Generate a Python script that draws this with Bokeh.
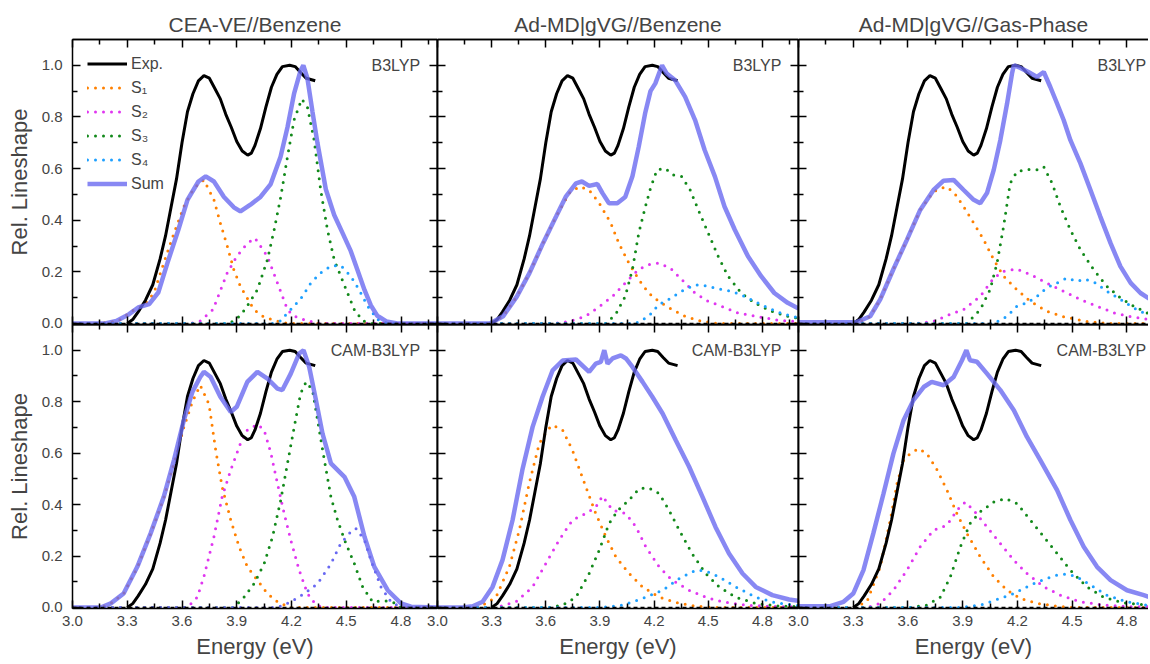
from bokeh.plotting import figure
from bokeh.models import (LinearAxis, FixedTicker, Range1d, Span, Label, Legend,
                          LegendItem, NumeralTickFormatter)
from bokeh.layouts import column, row
from bokeh.embed import file_html
from bokeh.resources import INLINE

FONT = "Liberation Sans"

# ---------------- data (energy in eV, relative lineshape) ----------------
exp_e = [3.30, 3.33, 3.36, 3.40, 3.44, 3.48, 3.51, 3.54, 3.57, 3.60, 3.63, 3.66, 3.69, 3.72,
         3.75, 3.78, 3.81, 3.84, 3.87, 3.90, 3.93, 3.96, 3.98, 4.00, 4.03, 4.06, 4.09, 4.12,
         4.15, 4.19, 4.22, 4.25, 4.28, 4.33]
exp_y = [0.0, 0.015, 0.045, 0.09, 0.15, 0.25, 0.34, 0.45, 0.56, 0.70, 0.82, 0.89, 0.94, 0.96,
         0.95, 0.91, 0.87, 0.81, 0.76, 0.705, 0.668, 0.652, 0.66, 0.69, 0.755, 0.839, 0.915,
         0.965, 0.995, 1.0, 0.995, 0.972, 0.95, 0.94]

# CEA-VE // Benzene, B3LYP
cea_b3_s1_e = [3.0, 3.15, 3.25, 3.34, 3.394, 3.446, 3.50, 3.556, 3.61, 3.665, 3.72, 3.775, 3.81,
               3.848, 3.884, 3.92, 3.957, 3.994, 4.049, 4.12, 4.18, 5.0]
cea_b3_s1_y = [0, 0, 0.01, 0.054, 0.073, 0.118, 0.234, 0.35, 0.453, 0.524, 0.556, 0.479, 0.389,
               0.30, 0.208, 0.144, 0.099, 0.054, 0.025, 0.01, 0, 0]
cea_b3_s2_e = [3.0, 3.65, 3.70, 3.77, 3.848, 3.90, 3.957, 4.0, 4.068, 4.123, 4.178, 4.21, 4.287, 4.36, 5.0]
cea_b3_s2_y = [0, 0, 0.01, 0.054, 0.196, 0.26, 0.31, 0.331, 0.26, 0.157, 0.054, 0.03, 0.01, 0, 0]
cea_b3_s3_e = [3.0, 3.86, 3.92, 3.957, 4.013, 4.068, 4.105, 4.141, 4.178, 4.214, 4.256, 4.287, 4.324,
               4.36, 4.397, 4.434, 4.47, 4.507, 4.544, 4.59, 4.64, 5.0]
cea_b3_s3_y = [0, 0, 0.03, 0.067, 0.131, 0.247, 0.363, 0.49, 0.646, 0.788, 0.869, 0.839, 0.71,
               0.517, 0.363, 0.247, 0.183, 0.118, 0.054, 0.01, 0, 0]
cea_b3_s4_e = [3.0, 4.10, 4.14, 4.178, 4.214, 4.26, 4.306, 4.36, 4.415, 4.47, 4.525, 4.57, 4.617,
               4.672, 4.727, 5.0]
cea_b3_s4_y = [0, 0, 0.01, 0.041, 0.067, 0.105, 0.157, 0.196, 0.222, 0.225, 0.183, 0.131, 0.067,
               0.015, 0, 0]
cea_b3_sum_e = [3.0, 3.18, 3.24, 3.31, 3.36, 3.42, 3.47, 3.52, 3.58, 3.63, 3.69, 3.73, 3.775, 3.83,
                3.884, 3.92, 3.975, 4.03, 4.086, 4.14, 4.178, 4.214, 4.25, 4.265, 4.287, 4.315,
                4.342, 4.388, 4.434, 4.48, 4.525, 4.56, 4.60, 4.635, 4.67, 4.72, 4.78, 5.0]
cea_b3_sum_y = [0, 0, 0.01, 0.036, 0.062, 0.075, 0.12, 0.234, 0.363, 0.479, 0.55, 0.57, 0.55, 0.49,
                0.45, 0.434, 0.46, 0.49, 0.54, 0.646, 0.76, 0.89, 0.98, 1.0, 0.95, 0.82,
                0.70, 0.52, 0.42, 0.35, 0.28, 0.21, 0.13, 0.07, 0.03, 0.008, 0, 0]

# Ad-MD|gVG // Benzene, B3LYP
adb_b3_s1_e = [3.0, 3.29, 3.364, 3.44, 3.51, 3.584, 3.657, 3.73, 3.786, 3.84, 3.896, 3.96, 4.005,
               4.06, 4.115, 4.17, 4.225, 4.30, 4.372, 4.46, 4.55, 5.0]
adb_b3_s1_y = [0, 0, 0.028, 0.105, 0.196, 0.31, 0.414, 0.505, 0.53, 0.517, 0.466, 0.389, 0.31,
               0.234, 0.17, 0.118, 0.086, 0.054, 0.028, 0.009, 0, 0]
adb_b3_s2_e = [3.0, 3.65, 3.73, 3.82, 3.886, 3.97, 4.04, 4.115, 4.17, 4.225, 4.29, 4.353, 4.427,
               4.50, 4.573, 4.665, 4.775, 4.885, 5.0]
adb_b3_s2_y = [0, 0, 0.008, 0.028, 0.06, 0.105, 0.157, 0.21, 0.228, 0.234, 0.215, 0.17, 0.118,
               0.086, 0.067, 0.041, 0.026, 0.013, 0.007]
adb_b3_s3_e = [3.0, 3.932, 3.987, 4.04, 4.08, 4.115, 4.152, 4.18, 4.216, 4.262, 4.307, 4.353, 4.40,
               4.445, 4.50, 4.555, 4.61, 4.683, 4.756, 4.848, 4.94, 5.0]
adb_b3_s3_y = [0, 0, 0.035, 0.105, 0.21, 0.35, 0.453, 0.524, 0.595, 0.601, 0.575, 0.569, 0.517,
               0.44, 0.35, 0.26, 0.183, 0.118, 0.08, 0.048, 0.028, 0.02]
adb_b3_s4_e = [3.0, 4.097, 4.17, 4.225, 4.28, 4.353, 4.427, 4.48, 4.555, 4.628, 4.70, 4.793, 4.885,
               4.976, 5.0]
adb_b3_s4_y = [0, 0, 0.028, 0.073, 0.093, 0.125, 0.15, 0.147, 0.134, 0.125, 0.105, 0.073, 0.044,
               0.026, 0.022]
adb_b3_sum_e = [3.0, 3.29, 3.364, 3.44, 3.51, 3.584, 3.657, 3.71, 3.767, 3.80, 3.84, 3.886, 3.914,
                3.95, 3.996, 4.04, 4.08, 4.115, 4.15, 4.18, 4.207, 4.244, 4.27, 4.317, 4.372,
                4.427, 4.48, 4.537, 4.59, 4.647, 4.72, 4.793, 4.866, 4.94, 5.0]
adb_b3_sum_y = [0, 0, 0.028, 0.105, 0.196, 0.31, 0.414, 0.49, 0.543, 0.55, 0.533, 0.54, 0.505,
                0.466, 0.466, 0.49, 0.57, 0.685, 0.813, 0.90, 0.93, 1.0, 0.968, 0.942, 0.878,
                0.788, 0.672, 0.569, 0.453, 0.363, 0.26, 0.183, 0.118, 0.08, 0.058]

# Ad-MD|gVG // Gas-Phase, B3LYP
adg_b3_s1_e = [3.0, 3.32, 3.393, 3.448, 3.52, 3.594, 3.667, 3.74, 3.805, 3.85, 3.905, 3.96, 4.015,
               4.07, 4.124, 4.197, 4.27, 4.36, 4.453, 4.58, 4.70, 5.0]
adg_b3_s1_y = [0, 0, 0.028, 0.093, 0.21, 0.324, 0.44, 0.51, 0.53, 0.51, 0.453, 0.389, 0.324,
               0.247, 0.183, 0.131, 0.086, 0.048, 0.026, 0.008, 0, 0]
adg_b3_s2_e = [3.0, 3.65, 3.74, 3.83, 3.905, 3.996, 4.07, 4.124, 4.197, 4.27, 4.36, 4.453, 4.545,
               4.636, 4.73, 4.82, 4.93, 5.0]
adg_b3_s2_y = [0, 0, 0.008, 0.035, 0.054, 0.105, 0.176, 0.202, 0.211, 0.19, 0.157, 0.125, 0.093,
               0.067, 0.041, 0.026, 0.015, 0.01]
adg_b3_s3_e = [3.0, 3.923, 3.996, 4.05, 4.088, 4.124, 4.16, 4.197, 4.252, 4.307, 4.344, 4.39, 4.435,
               4.49, 4.545, 4.618, 4.69, 4.764, 4.837, 4.91, 5.0]
adg_b3_s3_y = [0, 0, 0.054, 0.131, 0.234, 0.376, 0.543, 0.588, 0.597, 0.595, 0.607, 0.543, 0.453,
               0.363, 0.286, 0.208, 0.144, 0.099, 0.067, 0.041, 0.025]
adg_b3_s4_e = [3.0, 4.07, 4.143, 4.197, 4.252, 4.307, 4.36, 4.417, 4.47, 4.527, 4.57, 4.627, 4.69,
               4.764, 4.837, 4.91, 5.0]
adg_b3_s4_y = [0, 0, 0.028, 0.067, 0.08, 0.105, 0.138, 0.157, 0.176, 0.163, 0.172, 0.157, 0.125,
               0.093, 0.06, 0.035, 0.02]
adg_b3_sum_e = [3.0, 3.32, 3.393, 3.448, 3.52, 3.594, 3.667, 3.74, 3.795, 3.85, 3.905, 3.96, 3.996,
                4.033, 4.07, 4.106, 4.143, 4.17, 4.18, 4.216, 4.26, 4.307, 4.344, 4.38, 4.417,
                4.453, 4.49, 4.545, 4.60, 4.654, 4.71, 4.764, 4.82, 4.874, 4.929, 5.0]
adg_b3_sum_y = [0.005, 0.005, 0.028, 0.093, 0.21, 0.324, 0.44, 0.517, 0.553, 0.556, 0.517, 0.479,
                0.466, 0.505, 0.595, 0.71, 0.852, 0.968, 1.0, 0.99, 0.974, 0.955, 0.974, 0.916,
                0.852, 0.788, 0.71, 0.62, 0.517, 0.414, 0.311, 0.221, 0.157, 0.118, 0.093, 0.07]

# CEA-VE // Benzene, CAM-B3LYP
cea_cam_s1_e = [3.0, 3.154, 3.21, 3.28, 3.355, 3.428, 3.50, 3.556, 3.61, 3.657, 3.70, 3.748, 3.785,
                3.82, 3.867, 3.913, 3.958, 4.013, 4.068, 4.123, 4.19, 5.0]
cea_cam_s1_y = [0, 0, 0.016, 0.054, 0.155, 0.285, 0.425, 0.56, 0.70, 0.80, 0.864, 0.79, 0.61,
                0.469, 0.34, 0.236, 0.158, 0.106, 0.054, 0.022, 0, 0]
cea_cam_s2_e = [3.0, 3.63, 3.684, 3.72, 3.775, 3.82, 3.867, 3.92, 3.958, 4.013, 4.05, 4.087, 4.123,
                4.16, 4.196, 4.242, 4.288, 4.334, 4.37, 5.0]
cea_cam_s2_y = [0, 0, 0.04, 0.12, 0.275, 0.43, 0.534, 0.637, 0.69, 0.712, 0.69, 0.60, 0.482,
                0.365, 0.262, 0.145, 0.054, 0.01, 0, 0]
cea_cam_s3_e = [3.0, 3.885, 3.94, 3.995, 4.05, 4.096, 4.141, 4.178, 4.215, 4.25, 4.28, 4.315, 4.343,
                4.38, 4.416, 4.452, 4.498, 4.544, 4.59, 4.644, 4.708, 4.754, 4.80, 5.0]
cea_cam_s3_y = [0, 0, 0.04, 0.093, 0.17, 0.275, 0.417, 0.56, 0.702, 0.832, 0.877, 0.845, 0.728,
                0.573, 0.43, 0.34, 0.249, 0.171, 0.08, 0.022, 0.026, 0.022, 0, 0]
cea_cam_s4_e = [3.0, 4.123, 4.196, 4.27, 4.343, 4.416, 4.47, 4.525, 4.553, 4.60, 4.635, 4.69, 4.745,
                4.80, 5.0]
cea_cam_s4_y = [0, 0, 0.022, 0.054, 0.093, 0.17, 0.249, 0.294, 0.307, 0.262, 0.184, 0.08, 0.022, 0, 0]
cea_cam_sum_e = [3.0, 3.154, 3.21, 3.28, 3.355, 3.428, 3.50, 3.556, 3.61, 3.657, 3.70, 3.72, 3.757,
                 3.81, 3.867, 3.90, 3.958, 4.013, 4.068, 4.123, 4.15, 4.196, 4.242, 4.266, 4.297,
                 4.334, 4.37, 4.416, 4.49, 4.544, 4.60, 4.654, 4.727, 4.80, 4.855, 5.0]
cea_cam_sum_y = [0, 0, 0.016, 0.054, 0.158, 0.288, 0.43, 0.573, 0.728, 0.838, 0.896, 0.916, 0.896,
                 0.819, 0.76, 0.78, 0.877, 0.916, 0.89, 0.851, 0.845, 0.909, 0.987, 1.0, 0.935,
                 0.806, 0.676, 0.56, 0.508, 0.43, 0.275, 0.158, 0.067, 0.016, 0.003, 0]

# Ad-MD|gVG // Benzene, CAM-B3LYP
adb_cam_s1_e = [3.0, 3.23, 3.324, 3.398, 3.453, 3.508, 3.564, 3.61, 3.638, 3.693, 3.748, 3.822,
                3.877, 3.933, 3.988, 4.062, 4.136, 4.228, 4.34, 4.43, 4.52, 5.0]
adb_cam_s1_y = [0, 0, 0.04, 0.158, 0.30, 0.482, 0.637, 0.69, 0.709, 0.69, 0.611, 0.469, 0.365,
                0.275, 0.197, 0.132, 0.08, 0.04, 0.016, 0.005, 0, 0]
adb_cam_s2_e = [3.0, 3.324, 3.435, 3.527, 3.60, 3.674, 3.748, 3.822, 3.877, 3.914, 3.97, 4.044,
                4.10, 4.154, 4.228, 4.30, 4.394, 4.486, 4.578, 4.708, 4.89, 5.0]
adb_cam_s2_y = [0, 0, 0.022, 0.08, 0.171, 0.262, 0.34, 0.365, 0.39, 0.433, 0.378, 0.365, 0.313,
                0.236, 0.158, 0.106, 0.067, 0.04, 0.022, 0.009, 0.003, 0.002]
adb_cam_s3_e = [3.0, 3.62, 3.693, 3.767, 3.84, 3.896, 3.95, 4.0, 4.06, 4.117, 4.17, 4.228, 4.283,
                4.34, 4.41, 4.486, 4.56, 4.652, 4.763, 4.89, 5.0]
adb_cam_s3_y = [0, 0, 0.009, 0.04, 0.132, 0.223, 0.326, 0.378, 0.417, 0.462, 0.465, 0.443, 0.378,
                0.30, 0.21, 0.132, 0.08, 0.04, 0.016, 0.005, 0.003]
adb_cam_s4_e = [3.0, 3.914, 4.025, 4.136, 4.247, 4.34, 4.43, 4.486, 4.56, 4.652, 4.763, 4.874,
                4.985, 5.0]
adb_cam_s4_y = [0, 0, 0.009, 0.035, 0.067, 0.113, 0.145, 0.142, 0.119, 0.08, 0.04, 0.018, 0.008, 0.007]
adb_cam_sum_e = [3.0, 3.14, 3.195, 3.25, 3.305, 3.36, 3.416, 3.47, 3.527, 3.582, 3.638, 3.693,
                 3.767, 3.84, 3.877, 3.905, 3.924, 3.942, 3.97, 4.016, 4.044, 4.08, 4.136, 4.19,
                 4.247, 4.32, 4.394, 4.468, 4.54, 4.615, 4.69, 4.763, 4.855, 4.948, 5.0]
adb_cam_sum_y = [0, 0, 0.005, 0.022, 0.08, 0.184, 0.34, 0.534, 0.702, 0.819, 0.922, 0.96, 0.964,
                 0.916, 0.948, 0.955, 1.0, 0.948, 0.968, 0.98, 0.968, 0.935, 0.877, 0.819, 0.754,
                 0.65, 0.547, 0.43, 0.313, 0.21, 0.132, 0.08, 0.048, 0.031, 0.026]

# Ad-MD|gVG // Gas-Phase, CAM-B3LYP
adg_cam_s1_e = [3.0, 3.30, 3.375, 3.448, 3.503, 3.54, 3.576, 3.612, 3.658, 3.704, 3.76, 3.814,
                3.868, 3.923, 3.996, 4.07, 4.143, 4.216, 4.307, 4.417, 4.50, 5.0]
adg_cam_s1_y = [0, 0, 0.022, 0.158, 0.34, 0.482, 0.573, 0.598, 0.618, 0.598, 0.534, 0.456, 0.365,
                0.288, 0.197, 0.119, 0.067, 0.035, 0.016, 0.005, 0, 0]
adg_cam_s2_e = [3.0, 3.375, 3.448, 3.52, 3.594, 3.667, 3.74, 3.814, 3.868, 3.914, 3.96, 4.033,
                4.106, 4.18, 4.252, 4.344, 4.435, 4.545, 4.673, 4.82, 5.0]
adg_cam_s2_y = [0, 0, 0.016, 0.067, 0.145, 0.236, 0.30, 0.32, 0.378, 0.41, 0.378, 0.313, 0.249,
                0.184, 0.132, 0.08, 0.048, 0.022, 0.009, 0.003, 0.002]
adg_cam_s3_e = [3.0, 3.612, 3.704, 3.777, 3.832, 3.887, 3.94, 3.996, 4.07, 4.134, 4.198, 4.27,
                4.344, 4.417, 4.49, 4.58, 4.673, 4.782, 4.91, 5.0]
adg_cam_s3_y = [0, 0, 0.009, 0.04, 0.119, 0.236, 0.326, 0.372, 0.41, 0.424, 0.404, 0.34, 0.275,
                0.21, 0.145, 0.08, 0.04, 0.018, 0.009, 0.006]
adg_cam_s4_e = [3.0, 3.887, 3.996, 4.088, 4.18, 4.27, 4.344, 4.417, 4.47, 4.527, 4.60, 4.69, 4.80,
                4.91, 5.0]
adg_cam_s4_y = [0, 0, 0.009, 0.031, 0.054, 0.087, 0.109, 0.126, 0.13, 0.119, 0.087, 0.048, 0.022,
                0.009, 0.005]
adg_cam_sum_e = [3.0, 3.174, 3.247, 3.30, 3.356, 3.41, 3.466, 3.52, 3.576, 3.63, 3.686, 3.73,
                 3.795, 3.85, 3.896, 3.92, 3.94, 3.978, 4.033, 4.106, 4.18, 4.252, 4.325, 4.417,
                 4.49, 4.563, 4.636, 4.71, 4.80, 4.892, 4.93, 5.0]
adg_cam_sum_y = [0.005, 0.005, 0.022, 0.054, 0.145, 0.288, 0.443, 0.598, 0.728, 0.806, 0.857,
                 0.877, 0.864, 0.896, 0.961, 1.0, 0.961, 0.955, 0.909, 0.845, 0.767, 0.663, 0.573,
                 0.456, 0.34, 0.236, 0.158, 0.106, 0.067, 0.048, 0.039, 0.03]

col_titles = ["CEA-VE//Benzene", "Ad-MD|gVG//Benzene", "Ad-MD|gVG//Gas-Phase"]
row_methods = ["B3LYP", "CAM-B3LYP"]
series_labels = ["Exp.", "S\u2081", "S\u2082", "S\u2083", "S\u2084", "Sum"]
x_title = "Energy (eV)"
y_title = "Rel. Lineshape"
x_major = [3.0, 3.3, 3.6, 3.9, 4.2, 4.5, 4.8]
x_minor = [3.15, 3.45, 3.75, 4.05, 4.35, 4.65, 4.95]
y_major = [0.0, 0.2, 0.4, 0.6, 0.8, 1.0]
y_minor = [0.1, 0.3, 0.5, 0.7, 0.9]

panels = [
    [
        [(cea_b3_s1_e, cea_b3_s1_y), (cea_b3_s2_e, cea_b3_s2_y), (cea_b3_s3_e, cea_b3_s3_y),
         (cea_b3_s4_e, cea_b3_s4_y), (cea_b3_sum_e, cea_b3_sum_y)],
        [(adb_b3_s1_e, adb_b3_s1_y), (adb_b3_s2_e, adb_b3_s2_y), (adb_b3_s3_e, adb_b3_s3_y),
         (adb_b3_s4_e, adb_b3_s4_y), (adb_b3_sum_e, adb_b3_sum_y)],
        [(adg_b3_s1_e, adg_b3_s1_y), (adg_b3_s2_e, adg_b3_s2_y), (adg_b3_s3_e, adg_b3_s3_y),
         (adg_b3_s4_e, adg_b3_s4_y), (adg_b3_sum_e, adg_b3_sum_y)],
    ],
    [
        [(cea_cam_s1_e, cea_cam_s1_y), (cea_cam_s2_e, cea_cam_s2_y), (cea_cam_s3_e, cea_cam_s3_y),
         (cea_cam_s4_e, cea_cam_s4_y), (cea_cam_sum_e, cea_cam_sum_y)],
        [(adb_cam_s1_e, adb_cam_s1_y), (adb_cam_s2_e, adb_cam_s2_y), (adb_cam_s3_e, adb_cam_s3_y),
         (adb_cam_s4_e, adb_cam_s4_y), (adb_cam_sum_e, adb_cam_sum_y)],
        [(adg_cam_s1_e, adg_cam_s1_y), (adg_cam_s2_e, adg_cam_s2_y), (adg_cam_s3_e, adg_cam_s3_y),
         (adg_cam_s4_e, adg_cam_s4_y), (adg_cam_sum_e, adg_cam_sum_y)],
    ],
]

# ---------------- styling / layout ----------------
S_COLORS = ["#ff8000", "#e036f0", "#12891a", "#1ea0ff"]
S4_ALT = "#6868f2"
SUM_COLOR = "#6a6af0"
FRAME_W = [365, 361, 350]
FRAME_H = [285, 284]
X_END = [5.0, 5.0, 4.918]
LEFT_B = 72
TOP_B = 39
BOT_B = 55
OVL = 16   # canvases overlap neighbours so boundary tick labels are not clipped


def style_axis(ax, labeled):
    ax.axis_line_color = "black"
    ax.axis_line_width = 1.5
    ax.major_tick_out = 0
    ax.minor_tick_out = 0
    ax.major_tick_line_width = 1.5
    ax.minor_tick_line_width = 1.5
    if not labeled:
        ax.major_label_standoff = 0
        ax.axis_label = None


def labeled_axis(p, side, label):
    horiz = side in ("above", "below")
    ax = LinearAxis(ticker=FixedTicker(ticks=x_major if horiz else y_major,
                                       minor_ticks=x_minor if horiz else y_minor),
                    formatter=NumeralTickFormatter(format="0.0"))
    style_axis(ax, True)
    ax.major_tick_in = 8
    ax.minor_tick_in = 5
    ax.major_label_text_font = FONT
    ax.major_label_text_font_size = "15px"
    ax.major_label_standoff = 7 if horiz else 10
    ax.axis_label = label
    ax.axis_label_text_font = FONT
    ax.axis_label_text_font_size = "22px"
    ax.axis_label_text_font_style = "normal"
    ax.axis_label_standoff = 5 if horiz else 7
    p.add_layout(ax, side)


def tick_only_axes(p, side):
    horiz = side in ("above", "below")
    for ticks, length in ((x_major if horiz else y_major, 8), (x_minor if horiz else y_minor, 5)):
        ax = LinearAxis(ticker=FixedTicker(ticks=[], minor_ticks=ticks))
        style_axis(ax, False)
        ax.major_tick_in = 0
        ax.minor_tick_in = length
        p.add_layout(ax, side)


def make_panel(r, c):
    mbl = LEFT_B if c == 0 else OVL
    mbt = TOP_B if r == 0 else 0
    mbb = OVL if r == 0 else BOT_B
    margin = (-OVL if r == 1 else 0, 0, 0, -OVL if c > 0 else 0)
    p = figure(width=FRAME_W[c] + mbl, height=FRAME_H[r] + mbt + mbb,
               x_range=Range1d(3.0, X_END[c]), y_range=Range1d(-0.004, 1.1),
               output_backend="svg", toolbar_location=None,
               x_axis_location=None, y_axis_location=None,
               title=col_titles[c] if r == 0 else None,
               min_border_left=mbl, min_border_right=0,
               min_border_top=mbt, min_border_bottom=mbb, margin=margin)
    p.outline_line_color = None
    p.grid.grid_line_color = None
    p.background_fill_alpha = 0
    p.border_fill_alpha = 0
    if r == 0:
        p.title.text_font = FONT
        p.title.text_font_size = "21px"
        p.title.text_font_style = "normal"
        p.title.align = "center"
        p.title.standoff = 8

    if c == 0:
        labeled_axis(p, "left", y_title)
    else:
        tick_only_axes(p, "left")
    if r == 1:
        labeled_axis(p, "below", x_title)
    else:
        tick_only_axes(p, "below")
    tick_only_axes(p, "above")
    if c < 2:
        tick_only_axes(p, "right")

    p.add_layout(Span(location=0, dimension="width", line_color="black",
                      line_dash="4 3", line_width=1.2))

    renderers = []
    for k, (e, y) in enumerate(panels[r][c][:4]):
        col = S_COLORS[k]
        if k == 3 and r == 1 and c == 0:
            col = S4_ALT
        renderers.append(p.line(e, y, line_color=col, line_width=3,
                                line_dash="0 8", line_cap="round"))
    r_exp = p.line(exp_e, exp_y, line_color="black", line_width=3)
    se, sy = panels[r][c][4]
    r_sum = p.line(se, sy, line_color=SUM_COLOR, line_width=4.5, line_alpha=0.8)

    p.add_layout(Label(x=4.905, y=1.0, text=row_methods[r], text_align="right",
                       text_baseline="middle", text_font=FONT, text_font_size="16px"))

    if r == 0 and c == 0:
        items = [LegendItem(label=series_labels[0], renderers=[r_exp])]
        for k in range(4):
            items.append(LegendItem(label=series_labels[k + 1], renderers=[renderers[k]]))
        items.append(LegendItem(label=series_labels[5], renderers=[r_sum]))
        leg = Legend(items=items, location="top_left")
        leg.border_line_color = None
        leg.background_fill_alpha = 0
        leg.label_text_font = FONT
        leg.label_text_font_size = "16px"
        leg.glyph_width = 40
        leg.glyph_height = 19
        leg.label_height = 19
        leg.label_standoff = 4
        leg.spacing = 5
        leg.padding = 6
        leg.margin = 15
        p.add_layout(leg)
    return p


rows = [row(*[make_panel(r, c) for c in range(3)]) for r in range(2)]
layout = column(*rows)

open("out.html", "w").write(file_html(layout, INLINE))
